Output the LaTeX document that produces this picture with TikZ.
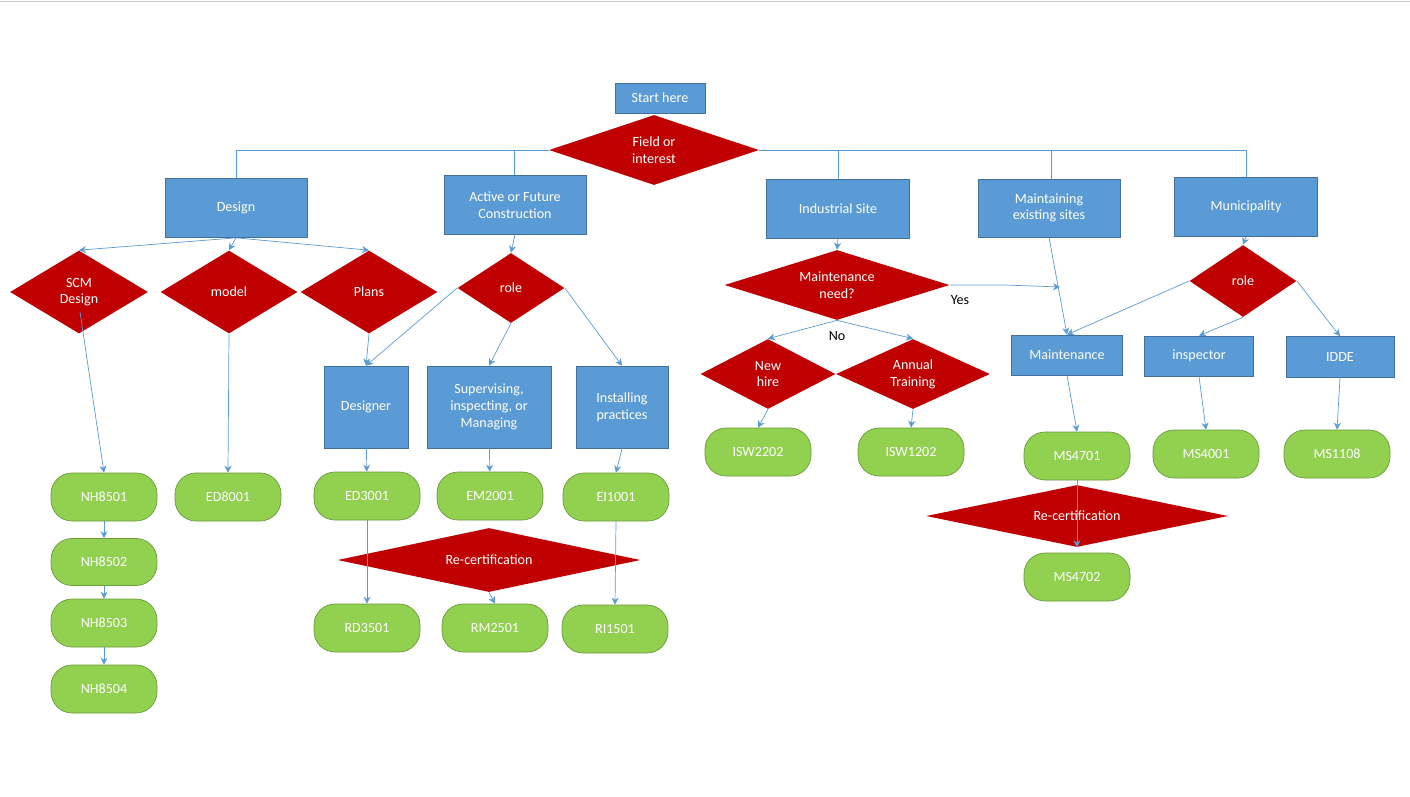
\documentclass[tikz,border=0pt]{standalone}
\usepackage{fontspec}
\setmainfont{Carlito}
\usetikzlibrary{arrows.meta,positioning,shapes.geometric}
\definecolor{boxblue}{HTML}{5B9BD5}
\definecolor{boxline}{HTML}{41719C}
\definecolor{dmdred}{HTML}{C00000}
\definecolor{crsgreen}{HTML}{92D050}
\definecolor{crsline}{HTML}{6A9A3A}
\tikzset{
  blk/.style={draw=boxline, fill=boxblue, text=white, align=center, inner sep=1pt, font=\fontsize{8}{9.5}\selectfont},
  dmd/.style={diamond, fill=dmdred, text=white, align=center, inner sep=0pt, font=\fontsize{8}{9.5}\selectfont},
  crs/.style={draw=crsline, fill=crsgreen, text=white, rounded corners=0.42cm, minimum width=2.12cm, minimum height=0.96cm, font=\fontsize{8}{9.5}\selectfont},
  lnk/.style={draw=boxblue, thin, -{Stealth[length=4pt,width=4pt]}},
  pln/.style={draw=boxblue, thin}
}
\begin{document}
\begin{tikzpicture}[x=0.02cm, y=-0.02cm]
\useasboundingbox (0,0) rectangle (1410,796);
\draw[gray!40] (0,1) -- (1410,1);

% Top
\node[blk, minimum width=1.8cm, minimum height=0.6cm] (start) at (660,98) {Start here};
\node[dmd, minimum width=4.2cm, minimum height=1.4cm, aspect=3] (field) at (654,150) {Field or\\interest};

% Areas
\node[blk, minimum width=2.84cm, minimum height=1.18cm] (design) at (236,208) {Design};
\node[blk, minimum width=2.84cm, minimum height=1.18cm] (active) at (515,205) {Active or Future\\Construction};
\node[blk, minimum width=2.86cm, minimum height=1.18cm] (indus) at (838,209) {Industrial Site};
\node[blk, minimum width=2.84cm, minimum height=1.16cm] (maint) at (1049,208) {Maintaining\\existing sites};
\node[blk, minimum width=2.86cm, minimum height=1.18cm] (muni) at (1246,207) {Municipality};

% Design branch
\node[dmd, minimum width=2.76cm, minimum height=1.66cm, aspect=1.66] (scm) at (79,292) {SCM\\Design};
\node[dmd, minimum width=2.74cm, minimum height=1.66cm, aspect=1.66] (model) at (229,292) {model};
\node[dmd, minimum width=2.74cm, minimum height=1.66cm, aspect=1.66] (plans) at (369,292) {Plans};
\node[crs] (nh1) at (104,497) {NH8501};
\node[crs, minimum height=0.94cm] (nh2) at (104,562) {NH8502};
\node[crs] (nh3) at (104,623) {NH8503};
\node[crs] (nh4) at (104,689) {NH8504};
\node[crs] (ed8) at (228,497) {ED8001};

% Construction branch
\node[dmd, minimum width=2.14cm, minimum height=1.4cm, aspect=1.53] (role) at (511,288) {role};
\node[blk, minimum width=1.68cm, minimum height=1.64cm] (dsgnr) at (366,407) {Designer};
\node[blk, minimum width=2.48cm, minimum height=1.64cm] (super) at (489,407) {Supervising,\\inspecting, or\\Managing};
\node[blk, minimum width=1.84cm, minimum height=1.64cm] (instl) at (622,407) {Installing\\practices};
\node[crs] (ed3) at (367,496) {ED3001};
\node[crs] (em2) at (490,496) {EM2001};
\node[crs] (ei1) at (616,497) {EI1001};
\node[dmd, minimum width=6.06cm, minimum height=1.28cm, aspect=4.7] (recert) at (489,560) {Re-certification};
\node[crs] (rd3) at (367,628) {RD3501};
\node[crs] (rm2) at (495,628) {RM2501};
\node[crs] (ri1) at (615,629) {RI1501};

% Industrial branch
\node[dmd, minimum width=4.5cm, minimum height=1.4cm, aspect=3.2] (need) at (837,285) {Maintenance\\need?};
\node[dmd, minimum width=2.7cm, minimum height=1.4cm, aspect=1.93] (hire) at (768,374) {New\\hire};
\node[dmd, minimum width=3.08cm, minimum height=1.4cm, aspect=2.2] (train) at (913,374) {Annual\\Training};
\node[crs] (isw2) at (758,452) {ISW2202};
\node[crs] (isw1) at (911,452) {ISW1202};

% Maintenance and municipality branch
\node[blk, minimum width=2.22cm, minimum height=0.8cm] (mntc) at (1067,355) {Maintenance};
\node[dmd, minimum width=2.14cm, minimum height=1.44cm, aspect=1.49] (role2) at (1243,281) {role};
\node[blk, minimum width=2.18cm, minimum height=0.8cm] (insp) at (1199,356) {inspector};
\node[blk, minimum width=2.16cm, minimum height=0.82cm] (idde) at (1340,357) {IDDE};
\node[crs] (ms47) at (1077,456) {MS4701};
\node[crs] (ms40) at (1206,454) {MS4001};
\node[crs] (ms11) at (1337,454) {MS1108};
\node[dmd, minimum width=6.04cm, minimum height=1.24cm, aspect=4.9] (recert2) at (1077,516) {Re-certification};
\node[crs] (ms472) at (1077,577) {MS4702};

% Field lines
\draw[pln] (field.west) -- (236,150) -- (design.north);
\draw[pln] (514,150) -- (active.north -| 514,0);
\draw[pln] (field.east) -- (1246,150) -- (muni.north);
\draw[pln] (838,150) -- (indus.north);
\draw[pln] (1051,150) -- (maint.north -| 1051,0);

% Design arrows
\draw[lnk] (design.south) -- (scm.north);
\draw[lnk] (design.south) -- (model.north);
\draw[lnk] (design.south) -- (plans.north);
\draw[lnk] (80,312) -- (nh1.north);
\draw[lnk] (nh1) -- (nh2);
\draw[lnk] (nh2) -- (nh3);
\draw[lnk] (nh3) -- (nh4);
\draw[lnk] (model.south) -- (ed8.north);

% Construction arrows
\draw[lnk] (active.south) -- (role.north);
\draw[lnk] (plans.south) -- (dsgnr.north);
\draw[lnk] (role.west) -- (dsgnr.north);
\draw[lnk] (role.south) -- (super.north);
\draw[lnk] (role.east) -- (instl.north);
\draw[lnk] (dsgnr) -- (ed3);
\draw[lnk] (super) -- (em2);
\draw[lnk] (instl.south) -- (ei1.north);
\draw[lnk] (ed3) -- (rd3);
\draw[lnk] (recert.south) -- (rm2.north);
\draw[lnk] (ei1.south) -- (ri1.north);

% Industrial arrows
\coordinate (yes) at (1060,287);
\draw[lnk] (indus.south) -- (need.north);
\draw[lnk] (need.east) -- (1005,285) -- (yes);
\node[font=\fontsize{8}{9.5}\selectfont] (yeslbl) at (960,300) {Yes};
\draw[lnk] (need.south) -- (hire.north);
\draw[lnk] (need.south) -- (train.north);
\node[font=\fontsize{8}{9.5}\selectfont] (nolbl) at (837,336) {No};
\draw[lnk] (hire.south) -- (isw2.north);
\draw[lnk] (train.south) -- (isw1.north);

% Maintenance arrows
\draw[lnk] (maint.south) -- (mntc.north);
\draw[lnk] (muni.south) -- (role2.north);
\draw[lnk] (role2.west) -- (mntc.north);
\draw[lnk] (role2.south) -- (insp.north);
\draw[lnk] (role2.east) -- (idde.north);
\draw[lnk] (mntc.south) -- (ms47.north);
\draw[lnk] (ms47.south) -- (recert2.south);
\draw[lnk] (insp.south) -- (ms40.north);
\draw[lnk] (idde.south) -- (ms11.north);

\end{tikzpicture}
\end{document}
